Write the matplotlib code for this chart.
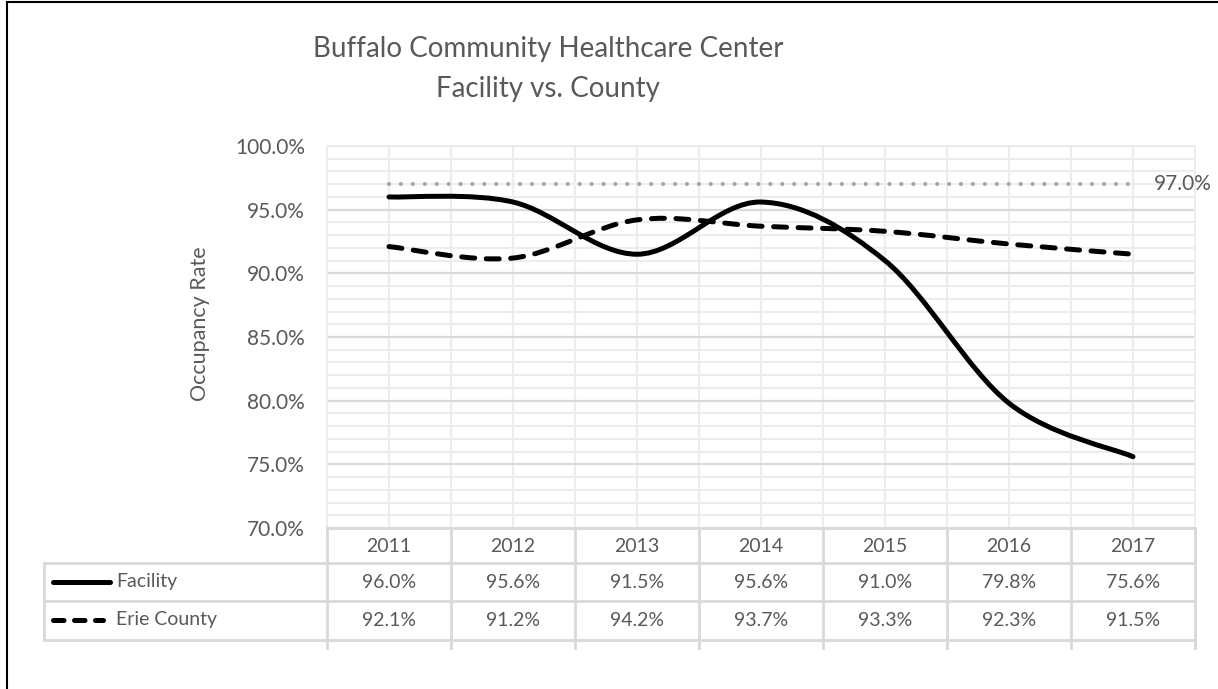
import matplotlib
matplotlib.use("Agg")
import matplotlib.pyplot as plt
import matplotlib.transforms as mtransforms
from matplotlib.path import Path
from matplotlib.patches import PathPatch, Rectangle
from matplotlib.lines import Line2D
from matplotlib.ticker import MultipleLocator, FuncFormatter

# Chart data
YEARS = ["2011", "2012", "2013", "2014", "2015", "2016", "2017"]
FACILITY = [96.0, 95.6, 91.5, 95.6, 91.0, 79.8, 75.6]
ERIE_COUNTY = [92.1, 91.2, 94.2, 93.7, 93.3, 92.3, 91.5]
TARGET = [97.0, 97.0, 97.0, 97.0, 97.0, 97.0, 97.0]
SERIES_NAMES = ["Facility", "Erie County"]

TITLE_LINES = ["Buffalo Community Healthcare Center", "Facility vs. County"]
Y_LABEL = "Occupancy Rate"

W, H = 1218, 689
TEXT_COLOR = "#595959"
MAJOR_GRID = "#D9D9D9"
MINOR_GRID = "#EDEDED"
plt.rcParams["font.family"] = ["Lato", "DejaVu Sans"]


def fx(px):
    return px / W


def fy(py):
    return 1 - py / H


def smooth_path(xs, ys):
    """Excel-like smoothed line as cubic Bezier segments (Catmull-Rom)."""
    pts = list(zip(xs, ys))
    n = len(pts)
    verts = [pts[0]]
    codes = [Path.MOVETO]
    for i in range(n - 1):
        p_prev = pts[max(i - 1, 0)]
        p0 = pts[i]
        p1 = pts[i + 1]
        p_next = pts[min(i + 2, n - 1)]
        c1 = (p0[0] + (p1[0] - p_prev[0]) / 6, p0[1] + (p1[1] - p_prev[1]) / 6)
        c2 = (p1[0] - (p_next[0] - p0[0]) / 6, p1[1] - (p_next[1] - p0[1]) / 6)
        verts += [c1, c2, p1]
        codes += [Path.CURVE4] * 3
    return Path(verts, codes)


fig = plt.figure(figsize=(W / 100, H / 100), dpi=100)
ax = fig.add_axes([fx(327), fy(528), fx(1195) - fx(327), fy(146) - fy(528)])

xs = list(range(len(YEARS)))
ax.set_xlim(-0.5, len(YEARS) - 0.5)
ax.set_ylim(70, 100)

# grid
ax.yaxis.set_major_locator(MultipleLocator(5))
ax.yaxis.set_minor_locator(MultipleLocator(1))
ax.yaxis.set_major_formatter(FuncFormatter(lambda v, p: f"{v:.1f}%"))
ax.set_xticks([x + 0.5 for x in xs[:-1]])
ax.set_xticks(xs, minor=True)
ax.tick_params(axis="x", which="both", length=0, labelbottom=False)
ax.tick_params(axis="y", which="both", length=0, labelsize=15,
               labelcolor=TEXT_COLOR, pad=16)
ax.grid(axis="y", which="major", color=MAJOR_GRID, lw=1.6)
ax.grid(axis="y", which="minor", color=MINOR_GRID, lw=1.4)
ax.grid(axis="x", which="both", color=MINOR_GRID, lw=1.6)
ax.set_axisbelow(True)
for side in ["left", "top", "right"]:
    ax.spines[side].set_color(MINOR_GRID)
    ax.spines[side].set_linewidth(1.4)
ax.spines["bottom"].set_color(MAJOR_GRID)
ax.spines["bottom"].set_linewidth(2)

# series
target = Line2D(xs, TARGET, color="#A6A6A6", lw=3.0, solid_capstyle="round",
                dash_capstyle="round", linestyle=(0, (0.01, 2.85)))
ax.add_line(target)
ax.annotate(f"{TARGET[-1]:.1f}%", (xs[-1], TARGET[-1]), xytext=(15, 0),
            textcoords="offset points", color=TEXT_COLOR, fontsize=15,
            va="center", ha="left", annotation_clip=False)

erie = PathPatch(smooth_path(xs, ERIE_COUNTY), fill=False, edgecolor="black",
                 lw=3.6, linestyle=(0, (2.6, 2.3)), capstyle="round",
                 joinstyle="round")
ax.add_patch(erie)
fac = PathPatch(smooth_path(xs, FACILITY), fill=False, edgecolor="black",
                lw=3.6, capstyle="round", joinstyle="round")
ax.add_patch(fac)

fig.text(fx(200), fy(324), Y_LABEL, rotation=90, ha="center", va="center",
         fontsize=15.5, color=TEXT_COLOR)

for line, base in zip(TITLE_LINES, [57, 97]):
    fig.text(fx(548), fy(base), line, ha="center", va="baseline",
             fontsize=20, color=TEXT_COLOR)

# data table below the plot
blend = mtransforms.blended_transform_factory(ax.transData, fig.transFigure)
row_lines = [563, 601, 640]
for py in row_lines:
    fig.add_artist(Line2D([fx(44), fx(1195)], [fy(py), fy(py)],
                          color=MAJOR_GRID, lw=2))
for b in [x - 0.5 for x in xs] + [len(YEARS) - 0.5]:
    fig.add_artist(Line2D([b, b], [fy(528), fy(648)], color=MAJOR_GRID,
                          lw=2, transform=blend))
fig.add_artist(Line2D([fx(44), fx(44)], [fy(563), fy(640)],
                      color=MAJOR_GRID, lw=2))

for x, year, f_val, e_val in zip(xs, YEARS, FACILITY, ERIE_COUNTY):
    fig.text(x, fy(546), year, transform=blend, ha="center", va="center",
             fontsize=14, color=TEXT_COLOR)
    fig.text(x, fy(582), f"{f_val:.1f}%", transform=blend, ha="center",
             va="center", fontsize=14, color=TEXT_COLOR)
    fig.text(x, fy(620), f"{e_val:.1f}%", transform=blend, ha="center",
             va="center", fontsize=14, color=TEXT_COLOR)

# legend keys in table
fig.add_artist(Line2D([fx(53), fx(110)], [fy(582), fy(582)], color="black",
                      lw=3.6, solid_capstyle="round"))
fig.add_artist(Line2D([fx(53), fx(103)], [fy(620), fy(620)], color="black",
                      lw=3.6, dash_capstyle="round", linestyle=(0, (2.1, 2.1))))
fig.text(fx(116), fy(582), SERIES_NAMES[0], ha="left", va="center",
         fontsize=14, color=TEXT_COLOR)
fig.text(fx(116), fy(620), SERIES_NAMES[1], ha="left", va="center",
         fontsize=14, color=TEXT_COLOR)

# outer chart border (partly cut off)
fig.add_artist(Rectangle((fx(7), fy(H + 20)), 1.1, fy(2) - fy(H + 20),
                         transform=fig.transFigure, fill=False,
                         edgecolor="black", lw=1.5))

fig.savefig("out.png", dpi=100)
